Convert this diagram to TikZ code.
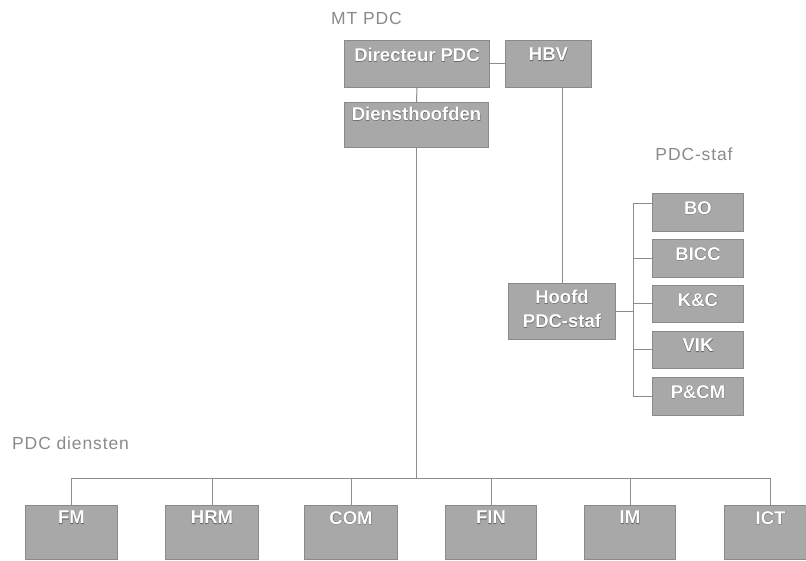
\documentclass[tikz,border=0pt]{standalone}
\usepackage{fontspec}
\setmainfont{Liberation Sans}
\definecolor{boxfill}{HTML}{A8A8A8}
\definecolor{boxline}{HTML}{8A8A8A}
\definecolor{wirecol}{HTML}{8C8C8C}
\definecolor{labelcol}{HTML}{8A8A8A}
\definecolor{haloc}{HTML}{6A6A6A}
\newcommand\halotxt[1]{\leavevmode\rlap{\color{haloc}\addfontfeature{FakeBold=2.2}#1}#1}
\begin{document}
\begin{tikzpicture}[x=1pt,y=-1pt,
  box/.style={draw=boxline, fill=boxfill, line width=1pt, anchor=north west, inner sep=0pt},
  boxtext/.style={text=white, font=\bfseries\fontsize{18.5}{24}\selectfont, anchor=north, inner sep=0pt, align=center},
  wire/.style={draw=wirecol, line width=1pt},
  grouplabel/.style={text=labelcol, font=\fontsize{17.5}{19}\selectfont\addfontfeature{LetterSpace=5}, inner sep=0pt}]
\useasboundingbox (0,0) rectangle (806,561);
% group labels
\node[grouplabel, anchor=east] (mtl) at (402,18) {MT PDC};
\node[grouplabel, anchor=west] (dienl) at (12,443) {PDC diensten};
\node[grouplabel] (stafl) at (694,154) {PDC-staf};
% top boxes
\node[box, minimum width=145, minimum height=47, label={[boxtext, yshift=-8pt]north:\halotxt{Directeur PDC}}] (dir) at (344,40) {};
\node[box, minimum width=86, minimum height=47, label={[boxtext, yshift=-8pt]north:\halotxt{HBV}}] (hbv) at (505,40) {};
\node[box, minimum width=144, minimum height=45, label={[boxtext, yshift=-5pt]north:\halotxt{Diensthoofden}}] (dh) at (344,102) {};
\node[box, minimum width=107, minimum height=56, label={[boxtext, yshift=-7pt]north:\halotxt{Hoofd}\\\halotxt{PDC-staf}}] (hoofd) at (508,283) {};
% staff boxes
\node[box, minimum width=91, minimum height=38, label={[boxtext, yshift=-8pt]north:\halotxt{BO}}] (bo) at (652,193) {};
\node[box, minimum width=91, minimum height=38, label={[boxtext, yshift=-8pt]north:\halotxt{BICC}}] (bicc) at (652,239) {};
\node[box, minimum width=91, minimum height=37, label={[boxtext, yshift=-8pt]north:\halotxt{K\&C}}] (kc) at (652,285) {};
\node[box, minimum width=91, minimum height=37, label={[boxtext, yshift=-8pt]north:\halotxt{VIK}}] (vik) at (652,331) {};
\node[box, minimum width=91, minimum height=38, label={[boxtext, yshift=-8pt]north:\halotxt{P\&CM}}] (pcm) at (652,377) {};
% bottom boxes
\node[box, minimum width=92, minimum height=54, label={[boxtext, yshift=-6pt]north:\halotxt{FM}}] (fm) at (25,505) {};
\node[box, minimum width=93, minimum height=54, label={[boxtext, yshift=-6pt]north:\halotxt{HRM}}] (hrm) at (165,505) {};
\node[box, minimum width=93, minimum height=54, label={[boxtext, yshift=-6pt]north:\halotxt{COM}}] (com) at (304,505) {};
\node[box, minimum width=91, minimum height=54, label={[boxtext, yshift=-6pt]north:\halotxt{FIN}}] (fin) at (445,505) {};
\node[box, minimum width=91, minimum height=54, label={[boxtext, yshift=-6pt]north:\halotxt{IM}}] (im) at (584,505) {};
\node[box, minimum width=92, minimum height=54, label={[boxtext, yshift=-6pt]north:\halotxt{ICT}}] (ict) at (724,505) {};
% connectors
\coordinate (busc) at (416,478);
\coordinate (sbus) at (633,313);
\draw[wire] (dir.east) -- (hbv.west);
\draw[wire] (dir.south) -- (dh.north);
\draw[wire] (dh.south) -- (dh.south |- busc);
\draw[wire] (fm.north) |- (ict.north |- busc) -- (ict.north);
\draw[wire] (hrm.north) -- (hrm.north |- busc);
\draw[wire] (com.north) -- (com.north |- busc);
\draw[wire] (fin.north) -- (fin.north |- busc);
\draw[wire] (im.north) -- (im.north |- busc);
\draw[wire] (hoofd.north) -- (hoofd.north |- hbv.south);
\draw[wire] (hoofd.east) -- (hoofd.east -| sbus);
\draw[wire] ([yshift=9pt]bo.west -| sbus) -- ([yshift=9pt]bo.west);
\draw[wire] ([yshift=9pt]bo.west -| sbus) -- (pcm.west -| sbus);
\draw[wire] (bicc.west -| sbus) -- (bicc.west);
\draw[wire] (kc.west -| sbus) -- (kc.west);
\draw[wire] (vik.west -| sbus) -- (vik.west);
\draw[wire] (pcm.west -| sbus) -- (pcm.west);
\end{tikzpicture}
\end{document}
